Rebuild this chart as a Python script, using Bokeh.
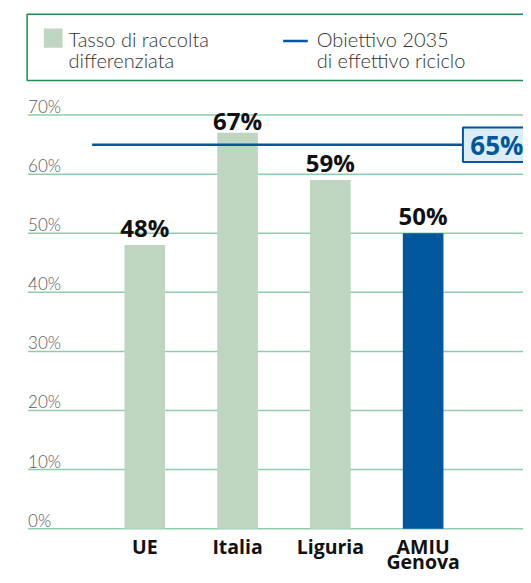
from bokeh.plotting import figure
from bokeh.models import Range1d
from bokeh.core.properties import value
from bokeh.embed import file_html
from bokeh.resources import INLINE

# ---- data ----
categories = ["UE", "Italia", "Liguria", "AMIU\nGenova"]
rates = [48, 67, 59, 50]
rate_labels = ["48%", "67%", "59%", "50%"]
target = 65
target_label = "65%"
ticks = [0, 10, 20, 30, 40, 50, 60, 70]
tick_labels = ["0%", "10%", "20%", "30%", "40%", "50%", "60%", "70%"]
legend_bar = "Tasso di raccolta\ndifferenziata"
legend_line = "Obiettivo 2035\ndi effettivo riciclo"

# ---- styles ----
LIGHT = "#bed6c0"
BLUE = "#00579c"
GRID = "#8fcdaa"
bar_colors = [LIGHT, LIGHT, LIGHT, BLUE]
label_offsets = [-17.5, -12.5, -17.5, -17.5]

# layout helpers: reference is 531x583, canvas fits the window (523x575)
REF_W, REF_H = 531, 583
W, H = 523, 575
Y0, PXV = 535.5, 5.99
X0, XSTEP = 146.5, 94.2
def vy(py):
    return (Y0 - py) / PXV
def vx(px):
    return (px - X0) / XSTEP

p = figure(width=W, height=H, output_backend="svg", toolbar_location=None,
           x_range=Range1d(vx(0), vx(REF_W)), y_range=Range1d(vy(REF_H), vy(0)),
           x_axis_location=None, y_axis_location=None, min_border=0)
p.grid.visible = False
p.outline_line_color = None
p.background_fill_color = "white"

LIGHTFONT = value("Lato Light")
BOLDFONT = value("Open Sans")

# gridlines
p.segment(x0=vx(28), x1=vx(560), y0=ticks, y1=ticks, line_color=GRID, line_width=1.5)
p.text(x=vx(28), y=ticks, text=tick_labels, text_font=LIGHTFONT, text_font_size="17px",
       text_color="#58595b", text_align="left", text_baseline="middle", y_offset=-8.5)

# bars
idx = list(range(len(categories)))
p.vbar(x=idx, top=rates, width=0.438, fill_color=bar_colors, line_color=None)

# value labels
p.text(x=idx, y=rates, text=rate_labels, text_font=BOLDFONT, text_font_style="bold",
       text_font_size="24px", text_color="#111111", text_align="center",
       text_baseline="middle", y_offset=label_offsets)

# category labels (split into lines)
line1 = [c.split("\n")[0] for c in categories]
line2 = [c.split("\n")[1] if "\n" in c else "" for c in categories]
p.text(x=idx, y=0, text=line1, text_font=BOLDFONT, text_font_style="bold",
       text_font_size="19.5px", text_color="#111111", text_align="center",
       text_baseline="middle", y_offset=17.5)
p.text(x=idx, y=0, text=line2, text_font=BOLDFONT, text_font_style="bold",
       text_font_size="19.5px", text_color="#111111", text_align="center",
       text_baseline="middle", y_offset=33)

# target line + box
p.segment(x0=vx(93), x1=vx(470), y0=target, y1=target, line_color=BLUE, line_width=2.5)
p.quad(left=vx(469.5), right=vx(570), top=target + 17.5 / PXV, bottom=target - 17.5 / PXV,
       fill_color="#dcedf8", line_color=BLUE, line_width=2)
p.text(x=vx(477), y=target, text=[target_label], text_font=BOLDFONT, text_font_style="bold",
       text_font_size="26px", text_color=BLUE, text_align="left", text_baseline="middle")

# legend box
p.quad(left=vx(27), right=vx(570), top=vy(14), bottom=vy(81), fill_color=None,
       line_color="#1e8c4e", line_width=1.5)
p.quad(left=vx(44), right=vx(63), top=vy(28.5), bottom=vy(48), fill_color=LIGHT, line_color=None)
p.segment(x0=vx(287), x1=vx(312), y0=vy(41), y1=vy(41), line_color=BLUE, line_width=2.5)
legend_x = [vx(69), vx(321)]
leg1 = [legend_bar.split("\n")[0], legend_line.split("\n")[0]]
leg2 = [legend_bar.split("\n")[1], legend_line.split("\n")[1]]
p.text(x=legend_x, y=vy(39.3), text=leg1, text_font=LIGHTFONT, text_font_size="20px",
       text_color="#333333", text_align="left", text_baseline="middle")
p.text(x=legend_x, y=vy(60.2), text=leg2, text_font=LIGHTFONT, text_font_size="20px",
       text_color="#333333", text_align="left", text_baseline="middle")

open("out.html", "w").write(file_html(p, INLINE))
